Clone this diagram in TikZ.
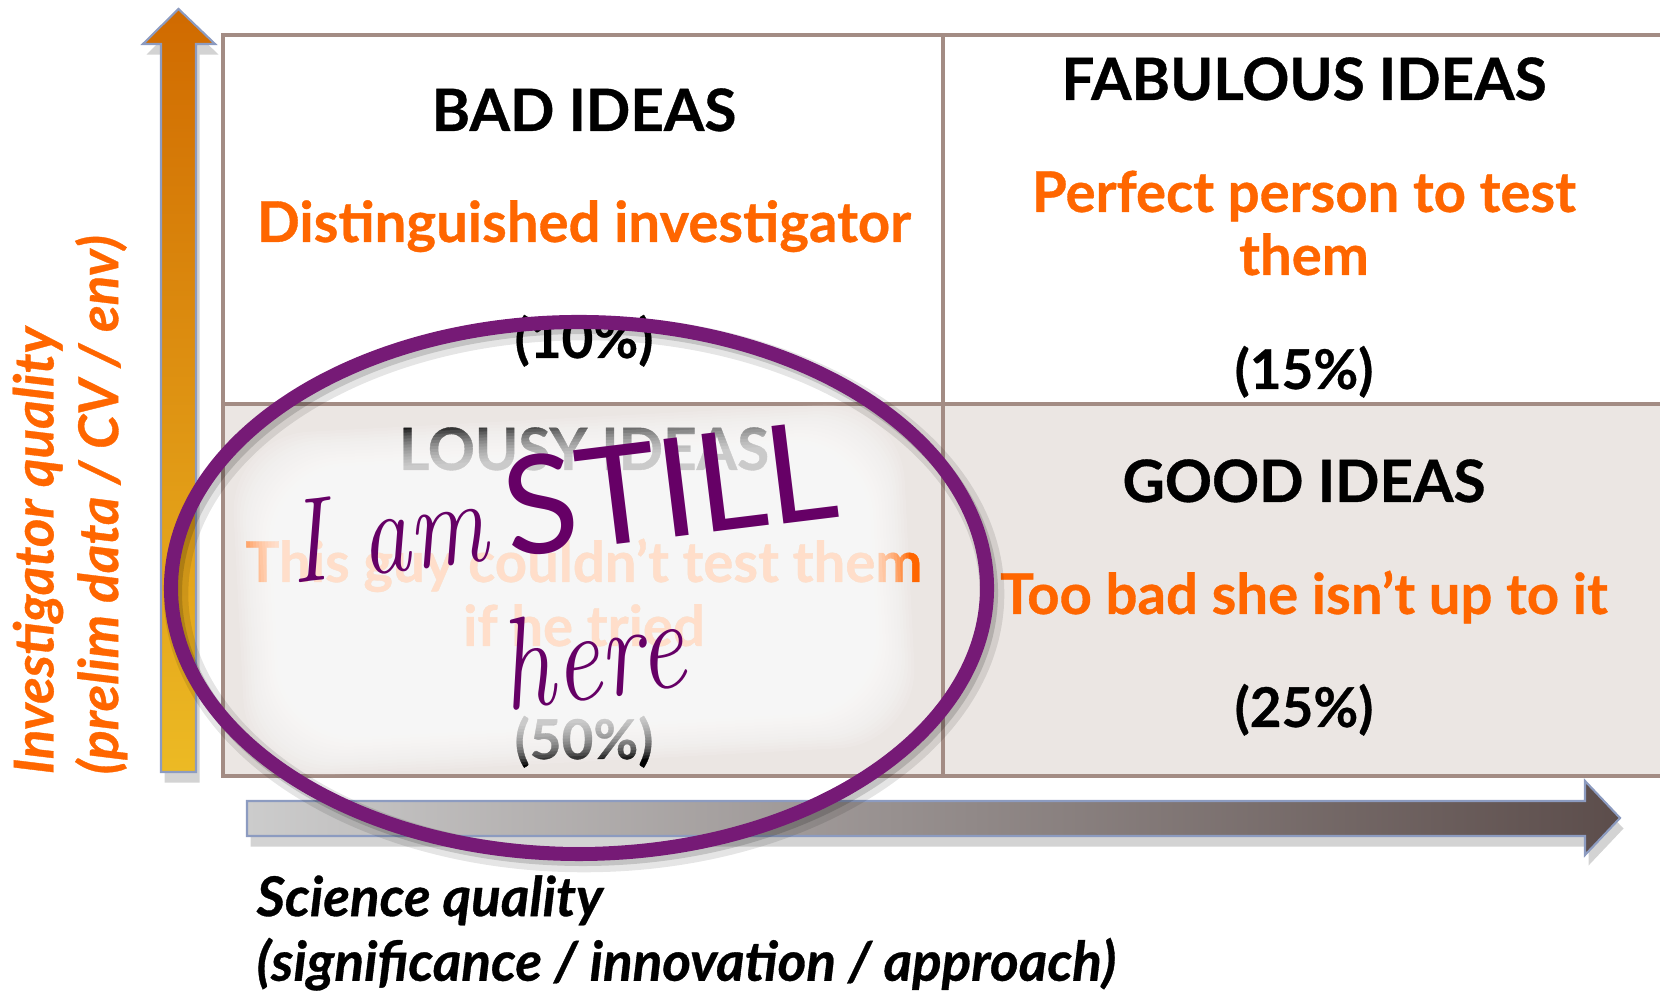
\documentclass[tikz,border=0pt]{standalone}
\usepackage{fontspec}
\newfontfamily\ideafont[BoldFeatures={FakeBold=0.6}, BoldItalicFeatures={FakeBold=0.6}]{Lato}
\usetikzlibrary{shadows}
\usetikzlibrary{calc}
\usetikzlibrary{positioning}

\definecolor{ideaorange}{RGB}{255,102,0}
\definecolor{cellgray}{RGB}{235,230,227}
\definecolor{gridline}{RGB}{163,140,132}
\definecolor{stillpurple}{RGB}{102,0,102}
\definecolor{ringpurple}{RGB}{118,26,118}
\definecolor{arrowedge}{RGB}{140,155,192}

\begin{document}
\begin{tikzpicture}[
  cell text/.style = {font=\ideafont\bfseries\fontsize{16}{19}\selectfont, anchor=base, inner sep=0pt},
  heading/.style = {cell text, black, font=\ideafont\bfseries\fontsize{16.6}{19}\selectfont},
  verdict/.style = {cell text, ideaorange},
  share/.style = {cell text, black, font=\ideafont\bfseries\fontsize{15.6}{19}\selectfont},
  axis label/.style = {font=\ideafont\bfseries\itshape\fontsize{15.6}{18.4}\selectfont, align=left, inner sep=0pt},
  grid line/.style = {gridline, line width=1pt},
  axis arrow/.style = {draw=arrowedge, line width=0.6pt,
    drop shadow={shadow xshift=1pt, shadow yshift=-3pt, opacity=0.35}}
  ]
  \useasboundingbox (0,0) rectangle (16.6,9.94);

  % the four cells
  \coordinate (@nw) at (2.23,9.59);
  \coordinate (@w)  at (2.23,5.90);
  \coordinate (@sw) at (2.23,2.18);
  \coordinate (@n)  at (9.43,9.59);
  \coordinate (@s)  at (9.43,2.18);
  \coordinate (@ne) at (16.6,9.59);
  \coordinate (@e)  at (16.6,5.90);
  \coordinate (@se) at (16.6,2.18);

  \fill[cellgray] (@w) rectangle (@se);
  \draw[grid line] (@ne) -- (@nw) -- (@sw) -- (@se);
  \draw[grid line] (@w) -- (@e);
  \draw[grid line] (@n) -- (@s);

  % axes
  \shade[axis arrow, top color={rgb,255:red,208;green,106;blue,0}, bottom color={rgb,255:red,236;green,186;blue,36}]
    (1.61,2.22) -- (1.61,9.50) -- (1.43,9.50) -- (1.785,9.85) -- (2.15,9.50) -- (1.96,9.50) -- (1.96,2.22) -- cycle;
  \shade[axis arrow, left color={rgb,255:red,204;green,204;blue,204}, right color={rgb,255:red,92;green,77;blue,75}]
    (2.47,1.58) -- (2.47,1.93) -- (15.85,1.93) -- (15.85,2.13) -- (16.20,1.76) -- (15.85,1.39) -- (15.85,1.58) -- cycle;

  \node[axis label, ideaorange, rotate=90, anchor=west] (quality) at (0.70,2.19)
    {Investigator quality\\(prelim data / CV / env)};
  \node[axis label, black, anchor=west] (science) at (2.56,0.61)
    {Science quality\\(significance / innovation / approach)};

  % cell texts, placed on their baselines
  \node[heading] (bad)      at (5.84,8.63) {BAD IDEAS};
  \node[verdict] (badwho)   at (5.84,7.52) {Distinguished investigator};
  \node[share]   (badpc)    at (5.84,6.36) {(10\%)};

  \node[heading] (fab)      at (13.04,8.94) {FABULOUS IDEAS};
  \node[verdict] (fabwho)   at (13.04,7.82) {Perfect person to test};
  \node[verdict] (fabwho2)  at (13.04,7.19) {them};
  \node[share]   (fabpc)    at (13.04,6.05) {(15\%)};

  \node[heading] (good)     at (13.04,4.92) {GOOD IDEAS};
  \node[verdict] (goodwho)  at (13.04,3.80) {Too bad she isn’t up to it};
  \node[share]   (goodpc)   at (13.04,2.67) {(25\%)};

  \node[heading] (lousy)     at (5.84,5.24) {LOUSY IDEAS};
  \node[verdict] (lousywho)  at (5.84,4.12) {This guy couldn’t test them};
  \node[verdict] (lousywho2) at (5.84,3.48) {if he tried};
  \node[share]   (lousypc)   at (5.84,2.35) {(50\%)};

  % white glow over the lousy cell
  \begin{scope}[rotate around={3:(5.74,4.04)}]
    \foreach \i in {0,...,13}
      \fill[white, opacity=0.11, rounded corners=0.8cm]
        ($(2.38,2.32)+(\i*0.03,\i*0.03)$) rectangle ($(9.10,5.76)-(\i*0.03,\i*0.03)$);
  \end{scope}

  % ring with its shadow
  \draw[black, opacity=0.10, line width=7pt] (5.84,4.00) ellipse [x radius=4.08, y radius=2.66];
  \draw[black, opacity=0.15, line width=4pt] (5.83,4.01) ellipse [x radius=4.08, y radius=2.66];
  \draw[ringpurple, line width=4pt] (5.79,4.06) ellipse [x radius=4.08, y radius=2.66];

  \node[stillpurple, rotate=7, anchor=base west, inner sep=0pt] (still) at (2.93,4.10)
    {\scalebox{0.82}[1]{\fontsize{34}{40}\selectfont\itshape I am}\hspace{0.2em} \ideafont\fontsize{39}{44}\selectfont STILL};
  \node[stillpurple, rotate=8, anchor=base west, inner sep=0pt] (here) at (5.06,2.83)
    {\scalebox{0.8}[1]{\fontsize{37}{42}\selectfont\itshape here}};
\end{tikzpicture}
\end{document}
